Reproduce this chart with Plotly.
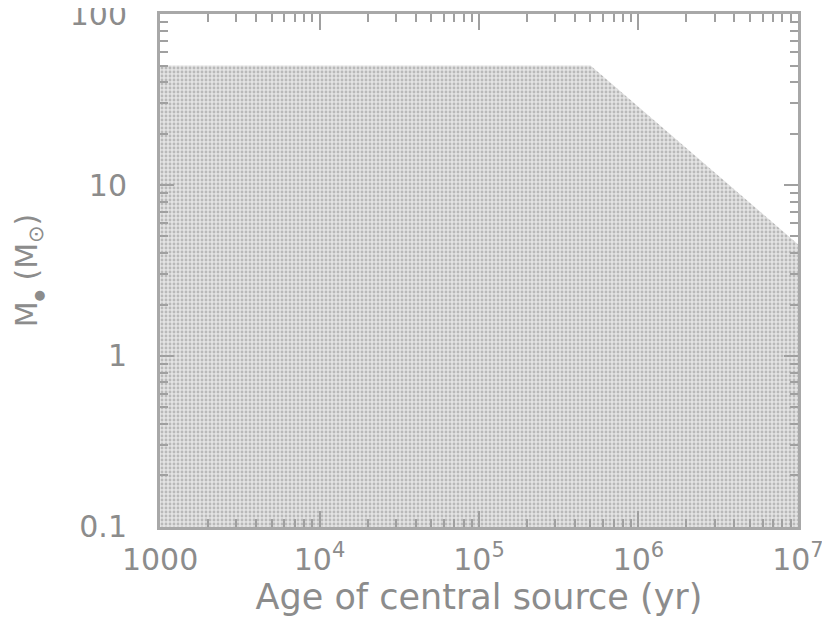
import plotly.graph_objects as go

# outline of the populated region (age in yr, mass in Msun)
region_age = [1000, 1000, 5.0e5, 1.0e7, 1.0e7, 1000]
region_mass = [0.1, 50, 50, 4.5, 0.1, 0.1]

x_ticks = [1000, 1e4, 1e5, 1e6, 1e7]
x_labels = ["1000", "10<sup>4</sup>", "10<sup>5</sup>", "10<sup>6</sup>", "10<sup>7</sup>"]
y_ticks = [0.1, 1, 10, 100]
y_labels = ["0.1", "1", "10", "100"]

x_minor = [m * 10 ** e for e in range(3, 7) for m in range(2, 10)]
y_minor = [m * 10 ** e for e in range(-1, 2) for m in range(2, 10)]

fig = go.Figure()
fig.add_trace(go.Scatter(
    x=region_age, y=region_mass, mode="lines", fill="toself",
    line=dict(width=0), fillcolor="#e2e2e2",
    fillpattern=dict(shape=".", size=4, solidity=0.4, fgcolor="#8e8e8e", bgcolor="#e4e4e4"),
    hoverinfo="skip",
))

tick_font = dict(family="DejaVu Sans", size=30, color="#8c8c8c")
title_font = dict(family="DejaVu Sans", size=35, color="#8c8c8c")
common = dict(
    type="log", showgrid=False, zeroline=False, showline=True, linecolor="#a8a8a8",
    linewidth=3, mirror="ticks", ticks="inside", tickcolor="#a0a0a0", tickwidth=2,
    tickfont=tick_font, automargin=False, ticklabeloverflow="allow",
)

fig.update_xaxes(
    **common, range=[2.9995, 7.0005], tickvals=x_ticks, ticktext=x_labels, ticklen=16,
    ticklabelstandoff=4,
    minor=dict(tickvals=x_minor, ticks="inside", ticklen=8, tickcolor="#a0a0a0", tickwidth=2),
    title=dict(text="Age of central source (yr)", font=title_font, standoff=4),
)
fig.update_yaxes(
    **common, range=[-1.0005, 2.0005], tickvals=y_ticks, ticktext=y_labels, ticklen=14,
    ticklabelstandoff=24,
    minor=dict(tickvals=y_minor, ticks="inside", ticklen=8, tickcolor="#a0a0a0", tickwidth=2),
    title=dict(
        text="M<sub><span style='font-size:13px'>●</span></sub> (M<sub>⊙</sub>)",
        font=dict(family="DejaVu Sans", size=30, color="#8c8c8c"), standoff=24,
    ),
)

# the page adds an 8 px body margin, so the margins are shifted by 8 px
fig.update_layout(
    width=830, height=628, showlegend=False,
    margin=dict(l=152, r=40, t=6, b=109),
    paper_bgcolor="white", plot_bgcolor="white",
)

fig.write_html("out.html")
